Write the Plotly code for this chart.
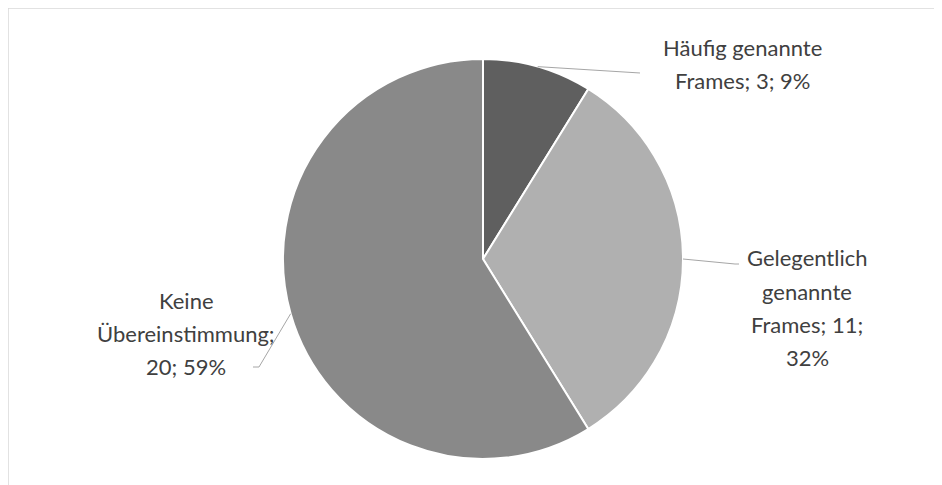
import math
import plotly.graph_objects as go

# ---- data ----
categories = ["Häufig genannte Frames", "Gelegentlich genannte Frames", "Keine Übereinstimmung"]
values = [3, 11, 20]
percents = ["9%", "32%", "59%"]
label_lines = [
    ["Häufig genannte", "Frames; 3; 9%"],
    ["Gelegentlich", "genannte", "Frames; 11;", "32%"],
    ["Keine", "Übereinstimmung;", "20; 59%"],
]

# ---- style / layout ----
W, H = 942, 485
OFF = 8  # page body margin offset
colors = ["#5f5f5f", "#b0b0b0", "#898989"]
CX, CY, R = 483, 259, 200  # pie centre and radius in screen px
# label placement (screen px): centre x, first-line y, leader-line path points after arc point
label_place = [
    dict(cx=742, y0=47, path=[(640, 73)]),
    dict(cx=807, y0=258, path=[(735, 264), (739, 264)]),
    dict(cx=186, y0=300, path=[(259, 367), (253, 367)]),
]
LINE_H = 33
FONT = "Lato, Calibri, Carlito, sans-serif"
TXT = "#404040"


def px(x):
    return (x - OFF) / W


def py(y):
    return 1 - (y - OFF) / H


fig = go.Figure(go.Pie(
    labels=categories,
    values=values,
    sort=False,
    direction="clockwise",
    rotation=0,
    marker=dict(colors=colors, line=dict(color="white", width=2)),
    textinfo="none",
    hoverinfo="label+value+percent",
    showlegend=False,
    domain=dict(x=[px(CX - R), px(CX + R)], y=[py(CY + R), py(CY - R)]),
))

total = sum(values)
annotations = []
shapes = []
cum = 0
for i, v in enumerate(values):
    mid = (cum + v / 2) / total * 2 * math.pi
    cum += v
    ax = CX + R * math.sin(mid)
    ay = CY - R * math.cos(mid)
    pts = [(ax, ay)] + label_place[i]["path"]
    d = "M " + " L ".join(f"{px(x):.5f},{py(y):.5f}" for x, y in pts)
    shapes.append(dict(type="path", xref="paper", yref="paper", path=d,
                       line=dict(color="#a6a6a6", width=1)))
    for j, line in enumerate(label_lines[i]):
        annotations.append(dict(
            x=px(label_place[i]["cx"]), y=py(label_place[i]["y0"] + j * LINE_H),
            xref="paper", yref="paper", text=line, showarrow=False,
            xanchor="center", yanchor="middle",
            font=dict(family=FONT, size=22, color=TXT)))

# chart frame
shapes.append(dict(type="rect", xref="paper", yref="paper",
                   x0=px(8), y0=py(8), x1=px(W + 20), y1=py(H + 20),
                   line=dict(color="#d9d9d9", width=1.5), layer="below"))

fig.update_layout(
    width=W, height=H,
    margin=dict(l=0, r=0, t=0, b=0),
    paper_bgcolor="white", plot_bgcolor="white",
    annotations=annotations, shapes=shapes,
)

fig.write_html("out.html")
